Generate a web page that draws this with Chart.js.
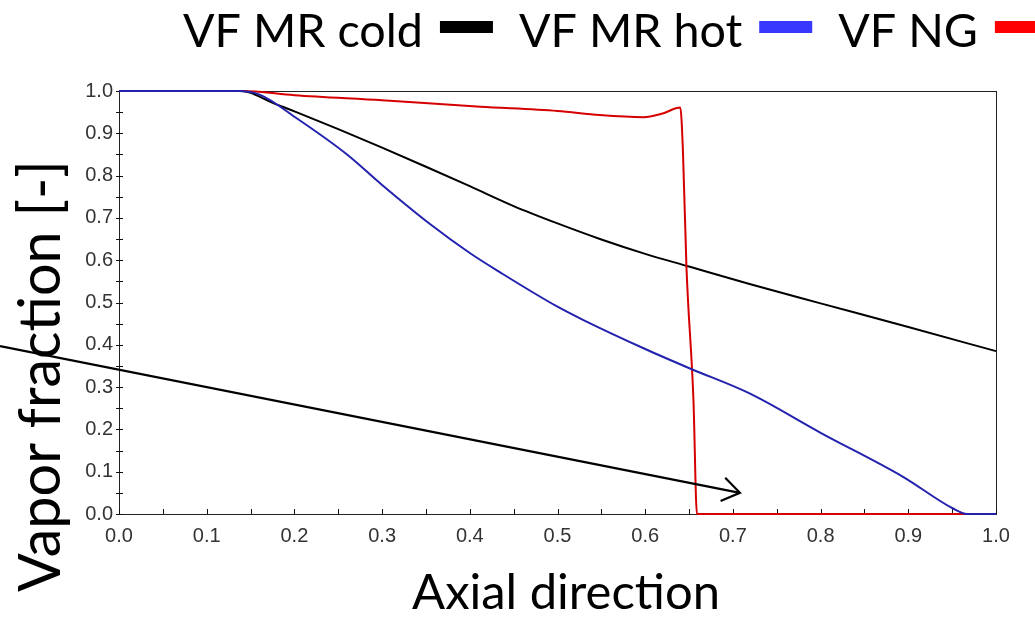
<!DOCTYPE html>
<html>
<head>
<meta charset="utf-8">
<script src="https://cdn.jsdelivr.net/npm/chart.js@4.4.1/dist/chart.umd.min.js"></script>
<style>
  html, body { margin: 0; padding: 0; background: #ffffff; }
  #wrap { width: 1035px; height: 619px; }
</style>
</head>
<body>
<div id="wrap"><canvas id="c" width="1035" height="619"></canvas></div>
<script>
// ---- data ----
const seriesNames = ['VF MR cold', 'VF MR hot', 'VF NG'];
const lineColors = ['#000000', '#2222ae', '#d60000'];
const legendColors = ['#000000', '#3838ff', '#ff0000'];

const coldX = [0, 0.14, 0.15, 0.172, 0.2, 0.25, 0.3, 0.35, 0.4, 0.45, 0.5, 0.55, 0.6, 0.65, 0.72, 0.8, 0.9, 1.0];
const coldY = [1, 1, 0.996, 0.975, 0.952, 0.91, 0.866, 0.821, 0.775, 0.728, 0.687, 0.649, 0.615, 0.585, 0.543, 0.498, 0.442, 0.385];

const hotX = [0, 0.136, 0.161, 0.203, 0.26, 0.3, 0.355, 0.4, 0.434, 0.5, 0.529, 0.6, 0.651, 0.719, 0.8, 0.894, 0.951, 0.967, 1.0];
const hotY = [1, 1, 0.991, 0.935, 0.85, 0.778, 0.685, 0.617, 0.572, 0.49, 0.459, 0.39, 0.344, 0.285, 0.192, 0.088, 0.013, 0, 0];

const ngX = [0, 0.14, 0.2, 0.3, 0.412, 0.5, 0.548, 0.598, 0.62, 0.64, 0.643, 0.647, 0.655, 0.659, 1.0];
const ngY = [1, 1, 0.99, 0.978, 0.963, 0.953, 0.943, 0.938, 0.947, 0.961, 0.86, 0.586, 0.27, 0, 0];

const xTickValues = [0, 0.1, 0.2, 0.3, 0.4, 0.5, 0.6, 0.7, 0.8, 0.9, 1.0];
const yTickValues = [0, 0.1, 0.2, 0.3, 0.4, 0.5, 0.6, 0.7, 0.8, 0.9, 1.0];
const xTitle = 'Axial direction';
const yTitle = 'Vapor fraction [-]';
// arrow annotation, in data coordinates (start lies left of the axis)
const arrowFrom = { x: -0.1357, y: 0.397 };
const arrowTo = { x: 0.708, y: 0.050 };

function pts(xs, ys) { return xs.map((x, i) => ({ x: x, y: ys[i] })); }

const allX = [coldX, hotX, ngX];
const allY = [coldY, hotY, ngY];
const drawOrder = [2, 0, 1]; // blue on top, then red, black at bottom

const datasets = seriesNames.map((name, i) => ({
  label: name,
  data: pts(allX[i], allY[i]),
  borderColor: lineColors[i],
  backgroundColor: lineColors[i],
  borderWidth: 2,
  pointRadius: 0,
  fill: false,
  cubicInterpolationMode: 'monotone',
  clip: 4,
  order: drawOrder[i]
}));

const LEG_FONT = 'Lato, "Open Sans", sans-serif';

function fitFont(ctx, text, targetWidth) {
  ctx.font = '100px ' + LEG_FONT;
  const w = ctx.measureText(text).width;
  return 100 * targetWidth / w;
}

const decor = {
  id: 'decor',
  beforeDatasetsDraw(chart) {
    const ctx = chart.ctx, a = chart.chartArea;
    const xs = chart.scales.x, ys = chart.scales.y;
    ctx.save();
    // frame
    ctx.strokeStyle = '#222';
    ctx.lineWidth = 1;
    ctx.strokeRect(Math.round(a.left) + 0.5, Math.round(a.top) + 0.5,
                   Math.round(a.right - a.left), Math.round(a.bottom - a.top));
    // tick marks every 0.05
    ctx.strokeStyle = '#111';
    for (let k = 0; k <= 20; k++) {
      const v = k / 20;
      const px = Math.round(xs.getPixelForValue(v)) + 0.5;
      ctx.beginPath();
      ctx.moveTo(px, a.bottom);
      ctx.lineTo(px, a.bottom - 5);
      ctx.stroke();
      const py = Math.round(ys.getPixelForValue(v)) + 0.5;
      ctx.beginPath();
      ctx.moveTo(a.left - 3, py);
      ctx.lineTo(a.left + 4, py);
      ctx.stroke();
    }
    ctx.restore();
  },
  afterDraw(chart) {
    const ctx = chart.ctx;
    const xs = chart.scales.x, ys = chart.scales.y;
    ctx.save();
    ctx.fillStyle = '#000';
    ctx.textBaseline = 'alphabetic';

    // legend: text followed by a colored bar
    const legSize = fitFont(ctx, seriesNames[0], 240);
    ctx.font = legSize + 'px ' + LEG_FONT;
    let x = 183;
    const base = 47;
    seriesNames.forEach((name, i) => {
      ctx.fillStyle = '#000';
      ctx.textAlign = 'left';
      ctx.fillText(name, x, base);
      x += ctx.measureText(name).width + 17;
      ctx.fillStyle = legendColors[i];
      ctx.fillRect(x, 21, 53, 12);
      x += 53 + 26;
    });

    // x title
    const xSize = fitFont(ctx, xTitle, 308);
    ctx.font = xSize + 'px ' + LEG_FONT;
    ctx.fillStyle = '#000';
    ctx.textAlign = 'center';
    ctx.fillText(xTitle, 566, 609);

    // y title
    const ySize = fitFont(ctx, yTitle, 432);
    ctx.font = ySize + 'px ' + LEG_FONT;
    ctx.save();
    ctx.translate(60, 376);
    ctx.rotate(-Math.PI / 2);
    ctx.textAlign = 'center';
    ctx.fillText(yTitle, 0, 0);
    ctx.restore();

    // arrow annotation
    const x0 = xs.getPixelForValue(arrowFrom.x), y0 = ys.getPixelForValue(arrowFrom.y);
    const x1 = xs.getPixelForValue(arrowTo.x), y1 = ys.getPixelForValue(arrowTo.y);
    ctx.strokeStyle = '#000';
    ctx.lineWidth = 2.2;
    ctx.beginPath();
    ctx.moveTo(x0, y0);
    ctx.lineTo(x1, y1);
    ctx.stroke();
    const ang = Math.atan2(y1 - y0, x1 - x0);
    const L = 21, spread = 0.6;
    ctx.beginPath();
    ctx.moveTo(x1 + L * Math.cos(ang + Math.PI - spread), y1 + L * Math.sin(ang + Math.PI - spread));
    ctx.lineTo(x1, y1);
    ctx.lineTo(x1 + L * Math.cos(ang + Math.PI + spread), y1 + L * Math.sin(ang + Math.PI + spread));
    ctx.stroke();
    ctx.restore();
  }
};

const tickFont = { family: '"Liberation Sans", Arial, sans-serif', size: 20 };

new Chart(document.getElementById('c'), {
  type: 'line',
  data: { datasets: datasets },
  options: {
    responsive: false,
    animation: false,
    layout: { padding: { top: 91, right: 39, bottom: 0, left: 0 } },
    plugins: { legend: { display: false }, tooltip: { enabled: false } },
    scales: {
      x: {
        type: 'linear', min: 0, max: 1,
        grid: { display: false, drawTicks: false },
        border: { display: false },
        afterBuildTicks: (s) => { s.ticks = xTickValues.map(v => ({ value: v })); },
        ticks: { font: tickFont, color: '#333', padding: 10, maxRotation: 0, autoSkip: false,
                 callback: (v) => Number(v).toFixed(1) },
        afterFit: (s) => { s.height = 105; }
      },
      y: {
        type: 'linear', min: 0, max: 1,
        grid: { display: false, drawTicks: false },
        border: { display: false },
        afterBuildTicks: (s) => { s.ticks = yTickValues.map(v => ({ value: v })); },
        ticks: { font: tickFont, color: '#333', padding: 6, autoSkip: false,
                 callback: (v) => Number(v).toFixed(1) },
        afterFit: (s) => { s.width = 119; }
      }
    }
  },
  plugins: [decor]
});
</script>
</body>
</html>
